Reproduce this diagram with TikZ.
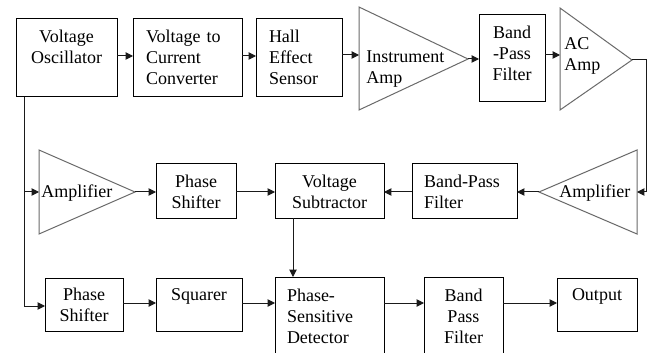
\documentclass[tikz,border=0pt]{standalone}
\usepackage{fontspec}
\setmainfont{Liberation Serif}
\newfontfamily\serfam{Liberation Serif}
\usetikzlibrary{arrows.meta}
\newdimen\pxu \pxu=0.75pt
\newcommand{\dfnt}{\serfam\fontsize{13.5}{15.75}\selectfont}
\definecolor{trigray}{HTML}{6A6A6A}
\definecolor{linec}{HTML}{1A1A1A}
\tikzset{
  box/.style={draw=black, line width=0.75pt, inner ysep=0pt, outer sep=0pt,
    anchor=north west, font=\dfnt},
  tri/.style={draw=trigray, line width=0.75pt, line join=miter},
  lbl/.style={inner sep=0pt, font=\dfnt, anchor=base west, align=left},
  arr/.style={draw=linec, line width=0.75pt, -{Triangle[length=5.5pt,width=5.5pt]}},
  ln/.style={draw=linec, line width=0.75pt},
}
\begin{document}
\begin{tikzpicture}[x=0.75pt, y=-0.75pt]
\useasboundingbox (0,0) rectangle (647,353);
\clip (0,0) rectangle (647,353);
\fill[white] (0,0) rectangle (647,353);

% ---------- top row ----------
\node[box, inner xsep=2\pxu, text width=97\pxu, text height=24\pxu, text depth=54\pxu, align=center]
  (vo) at (16,19) {Voltage\\Oscillator};
\node[box, inner xsep=13\pxu, text width=83\pxu, text height=24\pxu, text depth=54\pxu, align=left]
  (vcc) at (133,19) {Voltage to\\Current\\Converter};
\node[box, inner xsep=13\pxu, text width=60\pxu, text height=24\pxu, text depth=54\pxu, align=left]
  (hall) at (256,19) {Hall\\Effect\\Sensor};
\node[box, inner xsep=2\pxu, text width=62\pxu, text height=24\pxu, text depth=63\pxu, align=center]
  (bpfa) at (479,15) {Band\\-Pass\\Filter};

% instrument amp triangle
\coordinate (iaT) at (359,7);
\coordinate (iaB) at (359,110);
\coordinate (iaO) at (468,59);
\draw[tri] (iaT) -- (iaO) -- (iaB) -- cycle;
\node[lbl, text width=100\pxu] (ialbl) at (366,63) {Instrument\\Amp};

% AC amp triangle
\coordinate (acT) at (560,8);
\coordinate (acB) at (560,110);
\coordinate (acO) at (632,60);
\draw[tri] (acT) -- (acO) -- (acB) -- cycle;
\node[lbl, text width=60\pxu] (aclbl) at (564,50) {AC\\Amp};

% ---------- middle row ----------
\node[box, inner xsep=2\pxu, text width=76\pxu, text height=24\pxu, text depth=30\pxu, align=center]
  (psa) at (156,164) {Phase\\Shifter};
\node[box, inner xsep=2\pxu, text width=105\pxu, text height=24\pxu, text depth=30\pxu, align=center]
  (vs) at (275,164) {Voltage\\Subtractor};
\node[box, inner xsep=12\pxu, text width=81\pxu, text height=24\pxu, text depth=30\pxu, align=left]
  (bpfb) at (412,164) {Band-Pass\\Filter};

% left amplifier
\coordinate (alT) at (39,150);
\coordinate (alB) at (39,234);
\coordinate (alO) at (135,192);
\coordinate (alI) at (39,192);
\draw[tri] (alT) -- (alO) -- (alB) -- cycle;
\node[lbl] (allbl) at (41,197) {Amplifier};

% right amplifier
\coordinate (arT) at (637,150);
\coordinate (arB) at (637,234);
\coordinate (arO) at (539,192);
\coordinate (arI) at (637,192);
\draw[tri] (arT) -- (arO) -- (arB) -- cycle;
\node[lbl] (arlbl) at (559,197) {Amplifier};

% ---------- bottom row ----------
\node[box, inner xsep=2\pxu, text width=74\pxu, text height=22\pxu, text depth=31\pxu, align=center]
  (psb) at (45,278) {Phase\\Shifter};
\node[box, inner xsep=2\pxu, text width=82\pxu, text height=22\pxu, text depth=31\pxu, align=center]
  (sq) at (156,278) {Squarer};
\node[box, inner xsep=12\pxu, text width=85\pxu, text height=24\pxu, text depth=100\pxu, align=left]
  (psd) at (275,277) {Phase-\\Sensitive\\Detector};
\node[box, inner xsep=2\pxu, text width=75\pxu, text height=24\pxu, text depth=100\pxu, align=center]
  (bpfc) at (424,277) {Band\\Pass\\Filter};
\node[box, inner xsep=2\pxu, text width=76\pxu, text height=22\pxu, text depth=31\pxu, align=center]
  (out) at (557,278) {Output};

% ---------- helper coordinates ----------
\coordinate (y55) at (0,55);
\coordinate (y56) at (0,56);
\coordinate (y59) at (0,59);
\coordinate (y192) at (0,192);
\coordinate (y303) at (0,303);
\coordinate (y306) at (0,306);
\coordinate (x24) at (24,0);
\coordinate (x293) at (293,0);
\coordinate (eTop) at (646,60);
\coordinate (eBot) at (646,192);
\coordinate (vLeftMid) at (24,192);
\coordinate (vLeftBot) at (24,306);

% ---------- connectors ----------
\draw[arr] (vo.east |- y56) -- (vcc.west |- y56);
\draw[arr] (vcc.east |- y56) -- (hall.west |- y56);
\draw[arr] (hall.east |- y55) -- (iaT |- y55);
\draw[arr] (iaO) -- (bpfa.west |- y59);
\draw[arr] (bpfa.east |- y55) -- (acT |- y55);
\draw[ln] (acO) -- (eTop) -- (eBot);
\draw[arr] (eBot) -- (arI);

\draw[arr] (arO) -- (bpfb.east |- y192);
\draw[arr] (bpfb.west |- y192) -- (vs.east |- y192);
\draw[arr] (alO) -- (psa.west |- y192);
\draw[arr] (psa.east |- y192) -- (vs.west |- y192);
\draw[arr] (vs.south -| x293) -- (psd.north -| x293);

\draw[ln] (vo.south -| x24) -- (vLeftBot);
\draw[arr] (vLeftMid) -- (alI);
\draw[arr] (vLeftBot) -- (psb.west |- y306);

\draw[arr] (psb.east |- y303) -- (sq.west |- y303);
\draw[arr] (sq.east |- y303) -- (psd.west |- y303);
\draw[arr] (psd.east |- y303) -- (bpfc.west |- y303);
\draw[arr] (bpfc.east |- y303) -- (out.west |- y303);
\end{tikzpicture}
\end{document}
